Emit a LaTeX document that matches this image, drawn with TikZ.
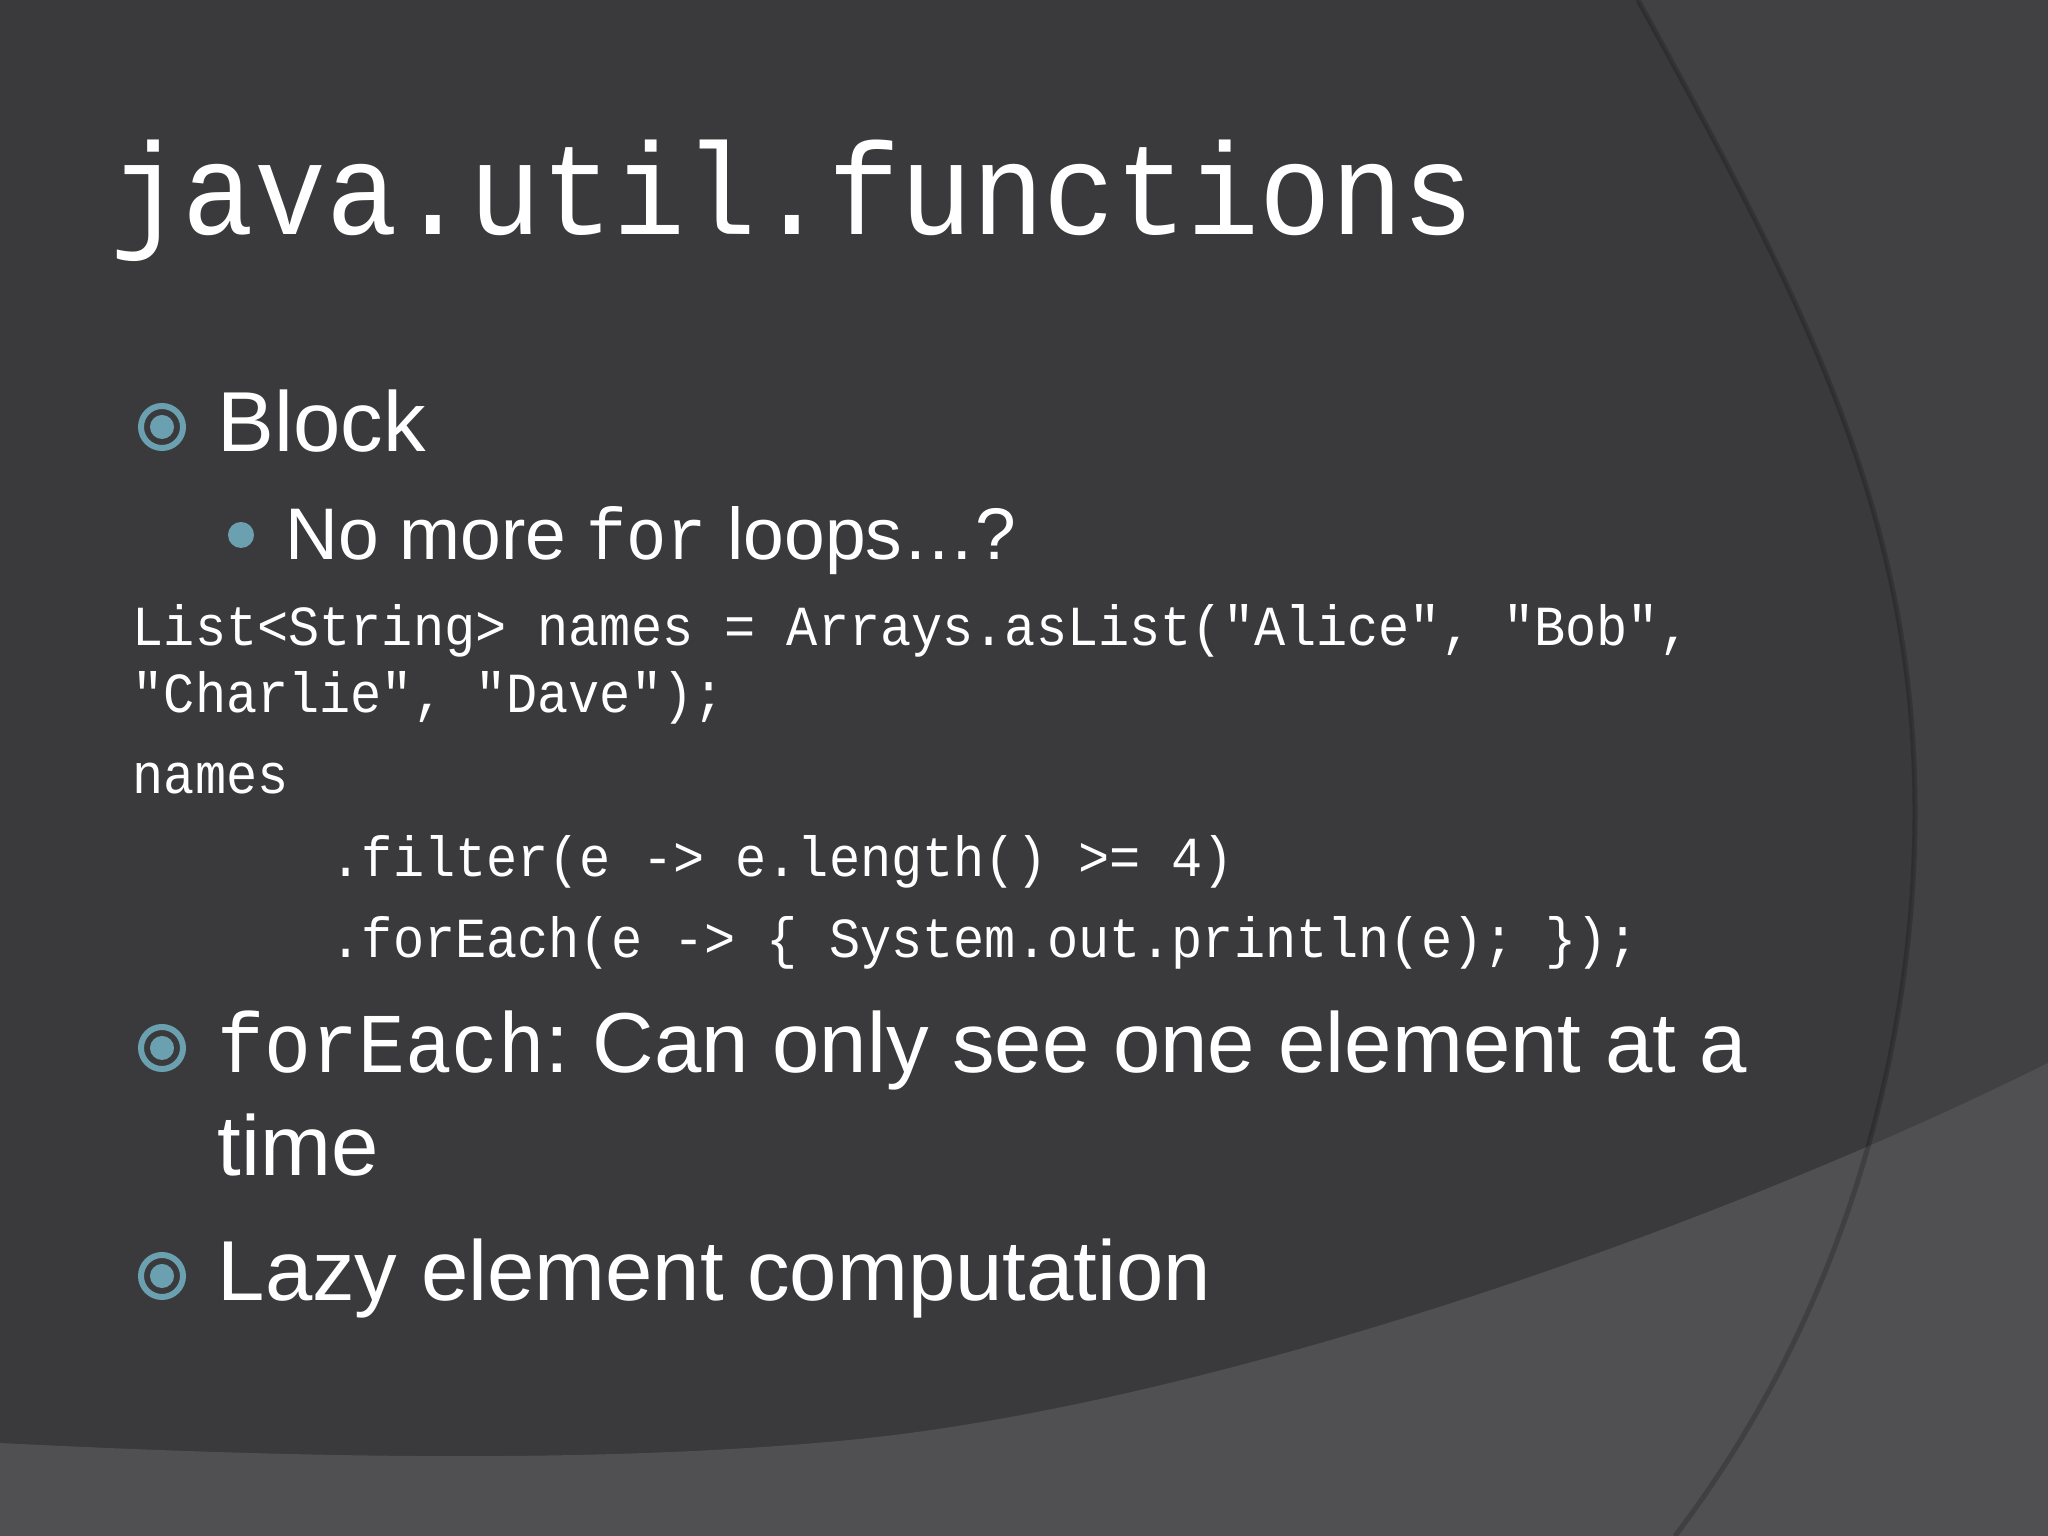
\documentclass[tikz,border=0pt]{standalone}
\usepackage{fontspec}
\newfontfamily\bodyfont{Liberation Sans}
\newfontfamily\codefont[FakeStretch=0.917,Ligatures=TeXOff]{Liberation Mono}
\frenchspacing
\definecolor{slatedark}{RGB}{58,58,60}
\definecolor{slatemid}{RGB}{65,65,67}
\definecolor{slateband}{RGB}{80,80,83}
\definecolor{bulletteal}{RGB}{107,160,176}

\begin{document}
\begin{tikzpicture}[x=0.01cm, y=0.01cm,
  titletext/.style={anchor=base west, inner sep=0, text=white, font=\codefont\fontsize{37.1}{44}\selectfont},
  bodyline/.style={anchor=base west, inner sep=0, text=white, font=\bodyfont\fontsize{24.2}{29}\selectfont},
  subline/.style={anchor=base west, inner sep=0, text=white, font=\bodyfont\fontsize{20.8}{25}\selectfont},
  codeline/.style={anchor=base west, inner sep=0, text=white, font=\codefont\fontsize{16.1}{19}\selectfont},
  ring/.style={circle, draw=bulletteal, line width=0.06cm, minimum size=0.42cm, inner sep=0,
    path picture={\fill[bulletteal] (path picture bounding box.center) circle (0.12cm);}},
  subdot/.style={circle, fill=bulletteal, minimum size=0.26cm, inner sep=0}]
  \useasboundingbox (0,0) rectangle (2048,1536);
  % slide background
  \fill[slatemid] (0,0) rectangle (2048,1536);
  \fill[slatedark] (0,1536) -- (1638,1536) .. controls (1803,1236) and (1915,1024) .. (1915,724)
    .. controls (1915,500) and (1850,230) .. (1675,0) -- (0,0) -- cycle;
  \fill[slateband] (0,0) -- (0,93) .. controls (300,78) and (600,72) .. (849,96)
    .. controls (1200,130) and (1700,300) .. (2048,473) -- (2048,0) -- cycle;
  \draw[black, opacity=0.2, line width=0.05cm] (1638,1536) .. controls (1803,1236) and (1915,1024) .. (1915,724)
    .. controls (1915,500) and (1850,230) .. (1675,0);

  \node[titletext] (title) at (110,1301) {java.util.functions};

  \foreach \name/\y in {block/1109, foreach/488, lazy/260}
    \node[ring] (ring-\name) at (162,\y) {};
  \node[subdot] (dot-loops) at (241,1001) {};

  \node[bodyline] (block) at (217,1084) {Block};
  \node[subline] (loops) at (285,976) {No more {\codefont for} loops…?};

  \node[codeline] (code-list) at (132,890) {List<String> names = Arrays.asList("Alice", "Bob",};
  \node[codeline] (code-rest) at (132,823) {"Charlie", "Dave");};
  \node[codeline] (code-names) at (132,742) {names};
  \node[codeline] (code-filter) at (330,659) {.filter(e -> e.length() >= 4)};
  \node[codeline] (code-each) at (330,578) {.forEach(e -> \{ System.out.println(e); \});};

  \node[bodyline] (foreach) at (217,463) {{\codefont forEach}: Can only see one element at a};
  \node[bodyline] (time) at (217,360) {time};
  \node[bodyline] (lazy) at (217,235) {Lazy element computation};
\end{tikzpicture}
\end{document}
